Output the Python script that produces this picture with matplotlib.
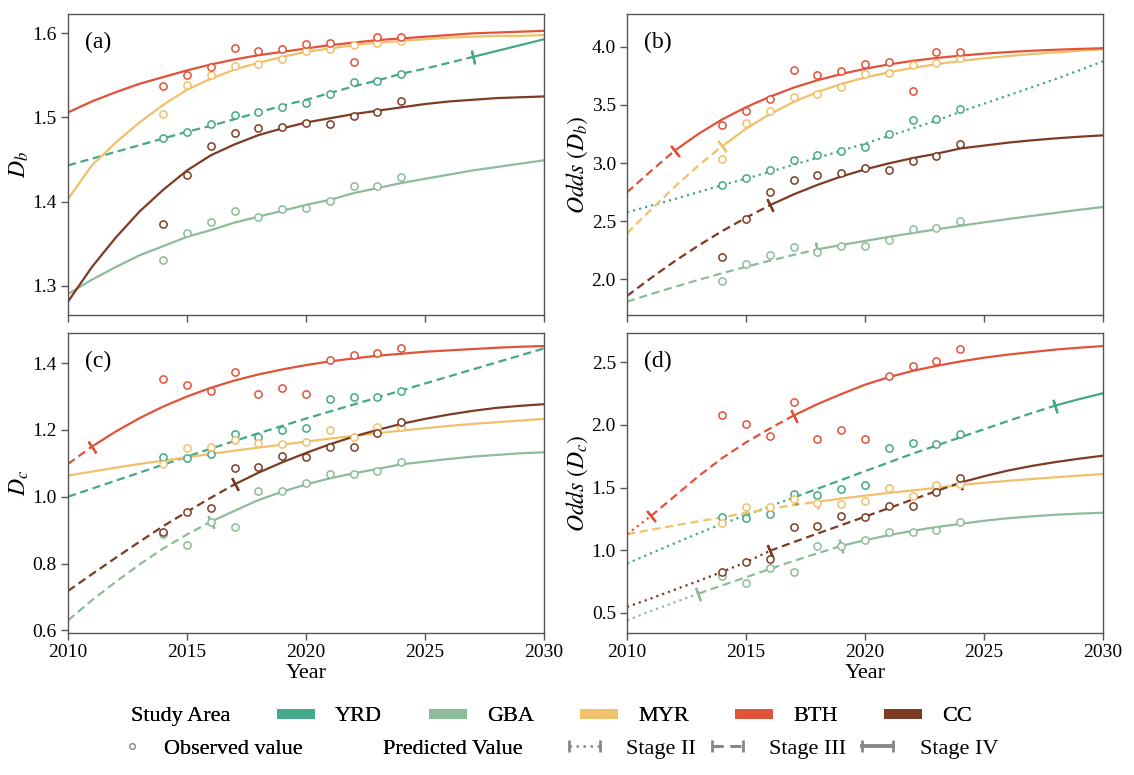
import numpy as np
import matplotlib
matplotlib.use("Agg")
import matplotlib.pyplot as plt
from matplotlib.lines import Line2D

plt.rcParams["font.family"] = ["Liberation Serif", "DejaVu Serif"]
plt.rcParams["mathtext.fontset"] = "stix"

areas = ["YRD", "GBA", "MYR", "BTH", "CC"]
colors = {"YRD": "#45A88B", "GBA": "#8DBC9A", "MYR": "#F0C06B",
          "BTH": "#E1523A", "CC": "#7D3B24"}

years = np.arange(2010, 2031)
obs_years = np.arange(2014, 2025)

# ---- (a) D_b ----
obs_a = {
    "YRD": [1.475, 1.483, 1.492, 1.503, 1.507, 1.512, 1.517, 1.528, 1.542, 1.543, 1.552],
    "GBA": [1.330, 1.362, 1.376, 1.389, 1.382, 1.391, 1.392, 1.401, 1.418, 1.419, 1.429],
    "MYR": [1.504, 1.539, 1.550, 1.561, 1.564, 1.570, 1.579, 1.581, 1.586, 1.588, 1.591],
    "BTH": [1.537, 1.550, 1.560, 1.583, 1.579, 1.582, 1.587, 1.589, 1.566, 1.596, 1.596],
    "CC":  [1.373, 1.431, 1.466, 1.481, 1.487, 1.489, 1.493, 1.492, 1.502, 1.507, 1.520],
}
fit_a = {
    "YRD": [1.443, 1.451, 1.459, 1.467, 1.475, 1.483, 1.490, 1.498, 1.506, 1.514, 1.521,
            1.529, 1.537, 1.544, 1.552, 1.558, 1.565, 1.572, 1.579, 1.586, 1.593],
    "GBA": [1.290, 1.307, 1.322, 1.336, 1.347, 1.358, 1.366, 1.375, 1.382, 1.389, 1.396,
            1.402, 1.410, 1.416, 1.422, 1.427, 1.432, 1.437, 1.441, 1.445, 1.449],
    "MYR": [1.403, 1.443, 1.470, 1.494, 1.515, 1.533, 1.546, 1.557, 1.565, 1.572, 1.578,
            1.582, 1.586, 1.589, 1.591, 1.593, 1.595, 1.596, 1.597, 1.597, 1.598],
    "BTH": [1.506, 1.519, 1.530, 1.540, 1.548, 1.556, 1.563, 1.569, 1.574, 1.578, 1.582,
            1.586, 1.589, 1.592, 1.594, 1.596, 1.598, 1.600, 1.601, 1.602, 1.603],
    "CC":  [1.281, 1.322, 1.357, 1.388, 1.414, 1.437, 1.455, 1.468, 1.479, 1.487, 1.494,
            1.499, 1.504, 1.508, 1.512, 1.516, 1.519, 1.521, 1.523, 1.524, 1.525],
}
stages_a = {"YRD": [(2010, "III"), (2027, "IV")], "GBA": [(2010, "IV")],
            "MYR": [(2010, "IV")], "BTH": [(2010, "IV")], "CC": [(2010, "IV")]}

# ---- (b) Odds(D_b) ----
obs_b = {
    "YRD": [2.811, 2.868, 2.940, 3.026, 3.066, 3.103, 3.140, 3.246, 3.370, 3.381, 3.464],
    "GBA": [1.986, 2.132, 2.206, 2.275, 2.232, 2.284, 2.287, 2.338, 2.436, 2.438, 2.501],
    "MYR": [3.034, 3.341, 3.447, 3.564, 3.590, 3.656, 3.765, 3.777, 3.840, 3.862, 3.905],
    "BTH": [3.327, 3.447, 3.553, 3.797, 3.759, 3.794, 3.848, 3.865, 3.619, 3.954, 3.957],
    "CC":  [2.192, 2.516, 2.751, 2.854, 2.900, 2.914, 2.954, 2.940, 3.017, 3.060, 3.163],
}
fit_b = {
    "YRD": [2.576, 2.633, 2.690, 2.750, 2.810, 2.865, 2.925, 2.985, 3.045, 3.105, 3.168,
            3.232, 3.298, 3.365, 3.440, 3.510, 3.580, 3.650, 3.722, 3.797, 3.875],
    "GBA": [1.808, 1.873, 1.935, 1.995, 2.053, 2.108, 2.160, 2.210, 2.258, 2.295, 2.330,
            2.365, 2.398, 2.430, 2.460, 2.490, 2.518, 2.545, 2.571, 2.598, 2.622],
    "MYR": [2.395, 2.598, 2.795, 2.978, 3.145, 3.295, 3.420, 3.525, 3.610, 3.680, 3.735,
            3.780, 3.818, 3.850, 3.877, 3.900, 3.920, 3.937, 3.951, 3.965, 3.978],
    "BTH": [2.748, 2.930, 3.106, 3.250, 3.375, 3.480, 3.570, 3.648, 3.712, 3.765, 3.810,
            3.848, 3.878, 3.903, 3.923, 3.940, 3.954, 3.965, 3.974, 3.981, 3.987],
    "CC":  [1.857, 2.010, 2.155, 2.290, 2.415, 2.530, 2.637, 2.730, 2.812, 2.884, 2.945,
            2.997, 3.042, 3.080, 3.125, 3.150, 3.175, 3.195, 3.212, 3.226, 3.238],
}
stages_b = {"YRD": [(2010, "II")], "GBA": [(2010, "III"), (2018, "IV")],
            "MYR": [(2010, "III"), (2014, "IV")], "BTH": [(2010, "III"), (2012, "IV")],
            "CC": [(2010, "III"), (2016, "IV")]}

# ---- (c) D_c ----
obs_c = {
    "YRD": [1.118, 1.117, 1.127, 1.187, 1.180, 1.200, 1.207, 1.292, 1.298, 1.298, 1.315],
    "GBA": [0.888, 0.854, 0.925, 0.908, 1.018, 1.018, 1.040, 1.068, 1.068, 1.077, 1.103],
    "MYR": [1.098, 1.147, 1.148, 1.170, 1.160, 1.157, 1.165, 1.200, 1.180, 1.208, 1.208],
    "BTH": [1.352, 1.335, 1.315, 1.372, 1.308, 1.325, 1.308, 1.410, 1.425, 1.430, 1.445],
    "CC":  [0.893, 0.954, 0.967, 1.086, 1.088, 1.122, 1.118, 1.150, 1.150, 1.190, 1.223],
}
fit_c = {
    "YRD": [1.000, 1.024, 1.048, 1.072, 1.096, 1.120, 1.144, 1.167, 1.190, 1.212, 1.234,
            1.255, 1.276, 1.297, 1.318, 1.339, 1.360, 1.381, 1.402, 1.423, 1.444],
    "GBA": [0.630, 0.690, 0.745, 0.797, 0.845, 0.887, 0.925, 0.958, 0.990, 1.015, 1.037,
            1.055, 1.070, 1.083, 1.097, 1.105, 1.113, 1.120, 1.125, 1.130, 1.133],
    "MYR": [1.063, 1.075, 1.087, 1.098, 1.108, 1.118, 1.128, 1.138, 1.147, 1.156, 1.165,
            1.174, 1.182, 1.190, 1.198, 1.205, 1.212, 1.218, 1.223, 1.228, 1.233],
    "BTH": [1.098, 1.150, 1.195, 1.235, 1.270, 1.300, 1.326, 1.348, 1.366, 1.381, 1.394,
            1.405, 1.414, 1.422, 1.428, 1.434, 1.438, 1.442, 1.446, 1.449, 1.451],
    "CC":  [0.718, 0.768, 0.817, 0.865, 0.912, 0.955, 0.997, 1.037, 1.072, 1.103, 1.131,
            1.157, 1.180, 1.200, 1.218, 1.233, 1.246, 1.257, 1.266, 1.272, 1.277],
}
stages_c = {"YRD": [(2010, "III")], "GBA": [(2010, "III"), (2016, "IV")],
            "MYR": [(2010, "IV")], "BTH": [(2010, "III"), (2011, "IV")],
            "CC": [(2010, "III"), (2017, "IV")]}

# ---- (d) Odds(D_c) ----
obs_d = {
    "YRD": [1.264, 1.256, 1.286, 1.448, 1.437, 1.491, 1.520, 1.818, 1.853, 1.850, 1.925],
    "GBA": [0.796, 0.742, 0.860, 0.828, 1.035, 1.035, 1.081, 1.142, 1.142, 1.160, 1.227],
    "MYR": [1.214, 1.342, 1.347, 1.411, 1.373, 1.368, 1.392, 1.493, 1.435, 1.520, 1.525],
    "BTH": [2.082, 2.007, 1.914, 2.183, 1.887, 1.959, 1.885, 2.388, 2.471, 2.508, 2.601],
    "CC":  [0.830, 0.910, 0.931, 1.184, 1.190, 1.275, 1.264, 1.350, 1.350, 1.461, 1.573],
}
fit_d = {
    "YRD": [0.894, 0.975, 1.055, 1.135, 1.210, 1.280, 1.350, 1.420, 1.490, 1.560, 1.630,
            1.700, 1.770, 1.835, 1.900, 1.965, 2.030, 2.093, 2.154, 2.205, 2.252],
    "GBA": [0.441, 0.515, 0.585, 0.654, 0.720, 0.785, 0.850, 0.915, 0.975, 1.035, 1.080,
            1.120, 1.155, 1.185, 1.210, 1.235, 1.255, 1.270, 1.283, 1.292, 1.299],
    "MYR": [1.128, 1.163, 1.197, 1.230, 1.262, 1.298, 1.330, 1.360, 1.387, 1.412, 1.435,
            1.457, 1.477, 1.497, 1.520, 1.538, 1.553, 1.568, 1.582, 1.595, 1.608],
    "BTH": [1.128, 1.272, 1.430, 1.590, 1.735, 1.860, 1.970, 2.074, 2.165, 2.245, 2.320,
            2.380, 2.430, 2.470, 2.505, 2.535, 2.560, 2.580, 2.600, 2.615, 2.628],
    "CC":  [0.548, 0.615, 0.685, 0.755, 0.828, 0.905, 0.995, 1.065, 1.133, 1.200, 1.268,
            1.336, 1.404, 1.472, 1.539, 1.590, 1.635, 1.672, 1.703, 1.730, 1.754],
}
stages_d = {"YRD": [(2010, "II"), (2017, "III"), (2028, "IV")],
            "GBA": [(2010, "II"), (2013, "III"), (2019, "IV")],
            "MYR": [(2010, "III"), (2018, "IV")],
            "BTH": [(2010, "II"), (2011, "III"), (2017, "IV")],
            "CC": [(2010, "II"), (2016, "III"), (2024, "IV")]}

stage_style = {"II": (0, (1, 1.8)), "III": (0, (3.7, 2.1)), "IV": "-"}

panels = [
    ("(a)", r"$D_b$", obs_a, fit_a, stages_a, (1.265, 1.623), np.arange(1.3, 1.61, 0.1)),
    ("(b)", r"$Odds\ (D_b)$", obs_b, fit_b, stages_b, (1.693, 4.281), np.arange(2.0, 4.01, 0.5)),
    ("(c)", r"$D_c$", obs_c, fit_c, stages_c, (0.592, 1.49), np.arange(0.6, 1.41, 0.2)),
    ("(d)", r"$Odds\ (D_c)$", obs_d, fit_d, stages_d, (0.34, 2.732), np.arange(0.5, 2.51, 0.5)),
]

fig = plt.figure(figsize=(11.34, 7.75), dpi=100)
positions = [
    [0.0600, 0.5935, 0.4198, 0.3884],
    [0.5529, 0.5935, 0.4198, 0.3884],
    [0.0600, 0.1832, 0.4198, 0.3871],
    [0.5529, 0.1832, 0.4198, 0.3871],
]
spine_col = "#555555"

for i, (tag, ylab, obs, fit, stages, ylim, yt) in enumerate(panels):
    ax = fig.add_axes(positions[i])
    ax.set_xlim(2010, 2030)
    ax.set_ylim(*ylim)
    for area in areas:
        c = colors[area]
        f = np.array(fit[area])
        st = stages[area]
        for k, (start, stage) in enumerate(st):
            end = st[k + 1][0] if k + 1 < len(st) else years[-1]
            m = (years >= start) & (years <= end)
            ax.plot(years[m], f[m], color=c, lw=1.6, ls=stage_style[stage],
                    zorder=2)
            if k > 0:
                # small tick across the curve where the stage changes
                j = np.where(years == start)[0][0]
                p0 = ax.transData.transform((years[j - 1], f[j - 1]))
                p1 = ax.transData.transform((years[j + 1], f[j + 1]))
                ang = np.degrees(np.arctan2(p1[1] - p0[1], p1[0] - p0[0]))
                ax.plot(years[j], f[j], marker=(2, 2, ang), ms=10, mew=1.6,
                        color=c, zorder=3)
        ax.plot(obs_years, obs[area], ls="none", marker="o", ms=5.2,
                mfc="white", mec=c, mew=1.1, zorder=4)
    ax.set_xticks([2010, 2015, 2020, 2025, 2030])
    ax.set_yticks(yt)
    ax.set_yticklabels([f"{v:.1f}" for v in yt])
    if i < 2:
        ax.set_xticklabels([])
    else:
        ax.set_xlabel("Year", fontsize=16, labelpad=2)
    ax.set_ylabel(ylab, fontsize=17, labelpad=1)
    ax.tick_params(labelsize=14, length=5, width=1, color=spine_col, pad=3)
    for s in ax.spines.values():
        s.set_color(spine_col)
        s.set_linewidth(1.0)
    ax.text(0.035, 0.905, tag, transform=ax.transAxes, fontsize=17,
            ha="left", va="center")

# legend row 1: study areas
blank = Line2D([], [], ls="none")
h1 = [blank] + [Line2D([], [], color=colors[a], lw=7, solid_capstyle="butt") for a in areas]
l1 = ["Study Area"] + areas
leg1 = fig.legend(h1, l1, loc="center", bbox_to_anchor=(0.461, 0.076), ncol=6,
                  frameon=False, fontsize=16, handlelength=1.7, handletextpad=0.9,
                  columnspacing=2.1)

# legend row 2a: observed / predicted
h2 = [Line2D([], [], ls="none", marker="o", ms=4, mfc="white", mec="#888888", mew=0.9),
      blank]
leg2 = fig.legend(h2, ["Observed value", "Predicted Value"], loc="center",
                  bbox_to_anchor=(0.280, 0.034), ncol=2, frameon=False, fontsize=16,
                  numpoints=1, handlelength=1.7, handletextpad=0.6, columnspacing=1.3)
fig.add_artist(leg1)

# legend row 2b: stages
h3 = [Line2D([], [], color="#888888", lw=w, ls=stage_style[s], marker="|", ms=9, mew=2)
      for s, w in [("II", 1.8), ("III", 2.2), ("IV", 2.8)]]
leg3 = fig.legend(h3, ["Stage II", "Stage III", "Stage IV"], loc="center",
                  bbox_to_anchor=(0.688, 0.034), ncol=3, frameon=False, fontsize=16,
                  numpoints=2, handlelength=2.0, handletextpad=0.9, columnspacing=0.4)
fig.add_artist(leg2)

fig.savefig("out.png", dpi=100)
